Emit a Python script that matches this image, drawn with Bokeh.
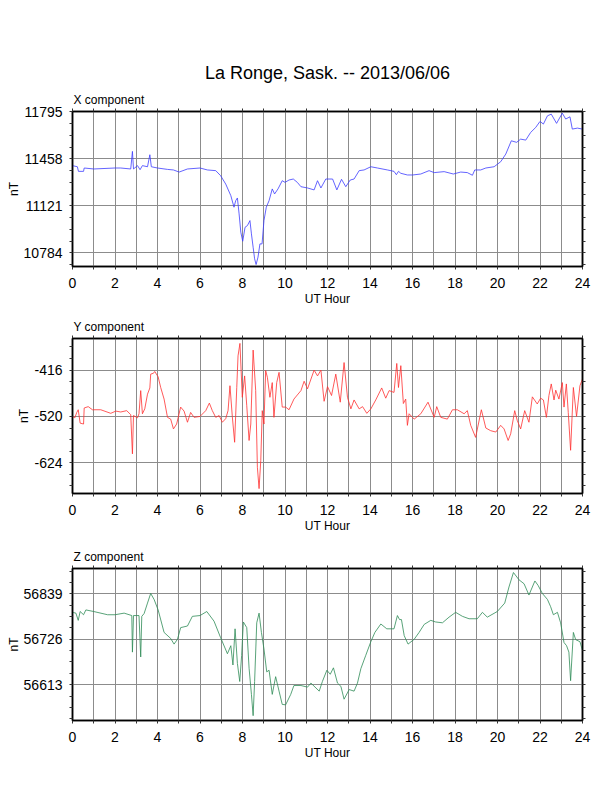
from bokeh.plotting import figure
from bokeh.models import FixedTicker, LinearAxis, Title, Range1d, CustomJSTickFormatter
from bokeh.layouts import column
from bokeh.embed import file_html
from bokeh.resources import INLINE

FONT = "Liberation Sans"
TITLE = "La Ronge, Sask. -- 2013/06/06"

# ---- data (UT hour, nT) ----
x_hours = [0, 0.23, 0.28, 0.52, 0.55, 1.0, 2.0, 2.27, 2.74, 2.82, 2.87, 3.06, 3.18, 3.29, 3.53,
           3.64, 3.71, 4.0, 4.47, 4.75, 5.02, 5.41, 6.0, 6.35, 6.74, 6.97, 7.21, 7.45, 7.6, 7.68,
           7.76, 7.84, 7.92, 8.01, 8.12, 8.23, 8.35, 8.42, 8.5, 8.57, 8.64, 8.73, 8.82, 8.92, 9.01,
           9.12, 9.25, 9.4, 9.51, 9.67, 9.87, 10.0, 10.19, 10.39, 10.58, 10.75, 11.06, 11.37, 11.53,
           11.69, 11.92, 12.24, 12.44, 12.66, 12.86, 13.07, 13.25, 13.49, 13.72, 14.04, 14.35, 14.82,
           15.13, 15.24, 15.34, 15.45, 15.76, 16.01, 16.39, 16.78, 17.02, 17.49, 17.92, 18.27, 18.58,
           18.82, 18.93, 19.21, 19.45, 19.84, 20.15, 20.39, 20.65, 20.9, 21.09, 21.33, 21.56, 21.8,
           22.0, 22.16, 22.35, 22.53, 22.78, 23.05, 23.21, 23.41, 23.52, 23.76, 24.0]
x_values = [11409, 11401, 11368, 11368, 11392, 11385, 11392, 11392, 11385, 11511, 11385, 11409, 11380,
            11409, 11401, 11487, 11401, 11392, 11382, 11378, 11363, 11385, 11392, 11378, 11373, 11337,
            11277, 11194, 11111, 11158, 11177, 11063, 10932, 10867, 10967, 10979, 11015, 10920, 10824,
            10741, 10700, 10753, 10848, 10848, 11015, 11111, 11158, 11242, 11206, 11242, 11301, 11289,
            11306, 11313, 11289, 11258, 11249, 11235, 11301, 11249, 11313, 11313, 11235, 11311, 11258,
            11306, 11313, 11373, 11378, 11401, 11392, 11378, 11368, 11344, 11368, 11354, 11342, 11342,
            11349, 11373, 11359, 11366, 11349, 11363, 11359, 11340, 11378, 11378, 11392, 11401, 11437,
            11492, 11587, 11576, 11599, 11592, 11647, 11683, 11726, 11707, 11766, 11778, 11712, 11785,
            11743, 11759, 11671, 11678, 11671]

y_hours = [0, 0.11, 0.2, 0.27, 0.36, 0.52, 0.55, 0.74, 0.94, 1.33,
           1.8, 2.04, 2.27, 2.55, 2.74, 2.82, 2.87, 3.06, 3.13, 3.21,
           3.29, 3.4, 3.53, 3.64, 3.68, 3.81, 3.87, 4.03, 4.15, 4.31,
           4.47, 4.62, 4.75, 4.9, 5.09, 5.25, 5.41, 5.56, 5.72, 6.0,
           6.27, 6.44, 6.58, 6.74, 6.9, 7.05, 7.21, 7.32, 7.41, 7.52,
           7.63, 7.73, 7.79, 7.88, 7.99, 8.1, 8.2, 8.31, 8.39, 8.5,
           8.62, 8.7, 8.78, 8.86, 8.93, 9.01, 9.09, 9.17, 9.29, 9.4,
           9.48, 9.61, 9.72, 9.87, 10.03, 10.19, 10.42, 10.75, 10.9, 11.06,
           11.37, 11.53, 11.69, 11.84, 12.0, 12.19, 12.39, 12.6, 12.78, 12.94,
           13.1, 13.25, 13.49, 13.65, 13.85, 14.04, 14.27, 14.55, 14.74, 14.9,
           15.13, 15.26, 15.34, 15.45, 15.57, 15.68, 15.76, 15.84, 16.08, 16.39,
           16.73, 17.02, 17.14, 17.33, 17.64, 17.88, 18.11, 18.43, 18.58, 18.74,
           18.97, 19.24, 19.45, 19.68, 19.92, 20.15, 20.31, 20.5, 20.62, 20.81,
           20.93, 21.09, 21.28, 21.48, 21.64, 21.87, 22.03, 22.16, 22.3, 22.42,
           22.53, 22.66, 22.74, 22.89, 23.05, 23.13, 23.24, 23.33, 23.44, 23.57,
           23.72, 23.88, 24.0]
y_values = [-520, -523, -511, -505, -535, -537, -501, -498, -505, -505,
            -513, -508, -510, -507, -516, -604, -518, -523, -514, -462,
            -514, -503, -470, -456, -425, -423, -419, -431, -455, -481,
            -522, -526, -548, -537, -499, -508, -533, -511, -522, -520,
            -507, -490, -507, -522, -518, -533, -525, -507, -451, -520,
            -578, -455, -384, -356, -477, -429, -496, -574, -537, -371,
            -462, -634, -682, -619, -507, -537, -417, -432, -477, -444,
            -522, -444, -421, -499, -499, -505, -481, -462, -441, -458,
            -416, -429, -416, -486, -453, -473, -425, -488, -399, -477,
            -503, -483, -503, -498, -513, -503, -483, -456, -479, -462,
            -466, -401, -455, -406, -491, -481, -540, -514, -526, -514,
            -488, -522, -498, -522, -526, -505, -505, -514, -507, -540,
            -567, -505, -546, -552, -555, -540, -548, -574, -559, -507,
            -529, -548, -507, -533, -476, -492, -479, -483, -522, -473,
            -447, -483, -461, -481, -444, -499, -447, -511, -596, -455,
            -520, -451, -436]

z_hours = [0, 0.16, 0.27, 0.36, 0.52, 0.63, 1.0, 1.65, 2.0, 2.43,
           2.79, 2.82, 2.87, 3.13, 3.21, 3.26, 3.37, 3.53, 3.68, 3.84,
           4.03, 4.31, 4.62, 4.78, 4.94, 5.09, 5.41, 5.64, 6.0, 6.32,
           6.66, 6.97, 7.29, 7.45, 7.55, 7.65, 7.76, 7.87, 7.96, 8.04,
           8.2, 8.31, 8.42, 8.5, 8.57, 8.67, 8.78, 8.89, 9.01, 9.14,
           9.25, 9.4, 9.56, 9.72, 9.87, 10.03, 10.27, 10.42, 10.75, 11.06,
           11.22, 11.61, 11.76, 11.97, 12.13, 12.28, 12.47, 12.63, 12.78, 13.02,
           13.25, 13.41, 13.57, 13.8, 14.04, 14.23, 14.51, 14.79, 15.13, 15.29,
           15.39, 15.48, 15.61, 15.79, 16.08, 16.31, 16.55, 16.86, 17.09, 17.41,
           17.72, 18.03, 18.35, 18.66, 19.05, 19.29, 19.52, 19.99, 20.34, 20.54,
           20.75, 21.01, 21.25, 21.48, 21.76, 21.91, 22.11, 22.35, 22.5, 22.63,
           22.82, 22.97, 23.13, 23.25, 23.36, 23.44, 23.57, 23.68, 23.88, 24.0]
z_values = [56793, 56791, 56773, 56795, 56787, 56799, 56795, 56787, 56787, 56791,
            56785, 56694, 56785, 56785, 56682, 56783, 56790, 56816, 56840, 56825,
            56799, 56743, 56728, 56714, 56726, 56755, 56759, 56783, 56785, 56795,
            56771, 56730, 56690, 56710, 56662, 56752, 56666, 56621, 56686, 56769,
            56755, 56654, 56589, 56536, 56621, 56767, 56791, 56743, 56702, 56645,
            56649, 56589, 56633, 56597, 56564, 56563, 56589, 56611, 56611, 56607,
            56617, 56597, 56621, 56649, 56639, 56655, 56617, 56609, 56577, 56601,
            56597, 56617, 56653, 56686, 56720, 56743, 56764, 56752, 56752, 56785,
            56775, 56775, 56735, 56714, 56726, 56743, 56763, 56773, 56769, 56767,
            56781, 56793, 56783, 56777, 56777, 56793, 56781, 56795, 56816, 56856,
            56892, 56874, 56864, 56836, 56871, 56860, 56840, 56825, 56807, 56787,
            56793, 56767, 56718, 56710, 56694, 56623, 56743, 56725, 56720, 56698]

# ---- axis tick labels ----
x_ticks = [10784, 11121, 11458, 11795]
y_ticks = [-624, -520, -416]
z_ticks = [56613, 56726, 56839]
x_span = (10686, 11797)
y_span = (-693, -345)
z_span = (56524, 56902)
hour_ticks = list(range(0, 25, 2))
hour_minor = list(range(1, 24, 2))
hour_grid = list(range(0, 25))

W = 604
BL, BR = 72, 22


def minor_list(majors, lo, hi):
    step = majors[1] - majors[0]
    out = []
    v = majors[0] - step
    while v <= majors[-1] + step:
        for k in range(1, 4):
            m = v + k * step / 4.0
            if lo <= m <= hi:
                out.append(m)
        v += step
    return out


def style_axis(ax, labels=True):
    ax.axis_line_color = "black"
    ax.axis_line_width = 1.5
    ax.major_tick_line_color = "#333333"
    ax.minor_tick_line_color = "#333333"
    ax.major_tick_out = 3
    ax.major_tick_in = 0
    ax.minor_tick_out = 3
    ax.minor_tick_in = 0
    ax.major_label_text_font = FONT
    ax.major_label_text_color = "black"
    ax.major_label_text_font_size = "14px"
    if labels:
        ax.formatter = CustomJSTickFormatter(code="return String(Math.round(tick))")
    else:
        ax.formatter = CustomJSTickFormatter(code="return ''")
        ax.major_label_standoff = 0
    ax.axis_label_text_font = FONT
    ax.axis_label_text_font_size = "12px"
    ax.axis_label_text_font_style = "normal"
    ax.axis_label_text_color = "black"


def make_panel(h, v, color, span, majors, comp, height, btop, bbot):
    p = figure(width=W, height=height, title=None,
               x_range=Range1d(0, 24), y_range=Range1d(*span),
               output_backend="svg", toolbar_location=None,
               min_border_left=BL, min_border_right=BR,
               min_border_top=btop, min_border_bottom=bbot)
    p.background_fill_color = "white"
    p.border_fill_color = "white"
    p.outline_line_color = "black"
    p.outline_line_width = 1.5

    minors = minor_list(majors, span[0], span[1])

    p.xgrid.ticker = FixedTicker(ticks=hour_grid)
    p.ygrid.ticker = FixedTicker(ticks=majors)
    for g in (p.xgrid[0], p.ygrid[0]):
        g.grid_line_color = "#8c8c8c"
        g.grid_line_width = 1

    xa = p.xaxis[0]
    xa.ticker = FixedTicker(ticks=hour_ticks, minor_ticks=hour_minor)
    xa.axis_label = "UT Hour"
    style_axis(xa)
    xa.major_label_standoff = 8
    xa.axis_label_standoff = 1

    ya = p.yaxis[0]
    ya.ticker = FixedTicker(ticks=majors, minor_ticks=minors)
    ya.axis_label = "nT"
    style_axis(ya)
    ya.major_label_standoff = 7
    ya.axis_label_standoff = 0

    top = LinearAxis(ticker=FixedTicker(ticks=hour_ticks, minor_ticks=hour_minor))
    style_axis(top, labels=False)
    p.add_layout(top, "above")
    right = LinearAxis(ticker=FixedTicker(ticks=majors, minor_ticks=minors))
    style_axis(right, labels=False)
    p.add_layout(right, "right")

    p.line(h, v, line_color=color, line_width=0.8)

    p.add_layout(Title(text=comp, align="left", offset=1, standoff=3,
                       text_font=FONT, text_font_size="12px", text_font_style="normal",
                       text_color="black"), "above")
    return p


p1 = make_panel(x_hours, x_values, "#3c3cff", x_span, x_ticks, "X component", 316, 111, 50)
p1.add_layout(Title(text=TITLE, align="center", offset=-3, standoff=13,
                    text_font=FONT, text_font_size="18px", text_font_style="normal",
                    text_color="black"), "above")
p2 = make_panel(y_hours, y_values, "#ff3030", y_span, y_ticks, "Y component", 230, 22, 53)
p3 = make_panel(z_hours, z_values, "#2e8b57", z_span, z_ticks, "Z component", 238, 18, 64)

layout = column(p1, p2, p3, spacing=0)
open("out.html", "w").write(file_html(layout, INLINE))
